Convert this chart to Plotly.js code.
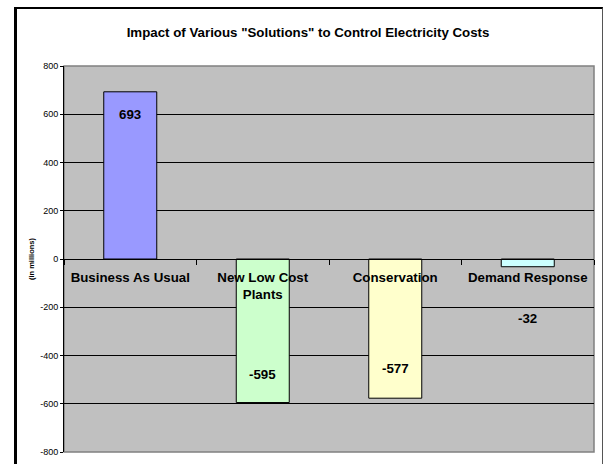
<!DOCTYPE html>
<html>
<head>
<meta charset="utf-8">
<script src="https://cdn.plot.ly/plotly-3.0.1.min.js"></script>
<style>
  html, body { margin: 0; padding: 0; background: #fff; }
  #chart { width: 604px; height: 464px; position: absolute; left: 0; top: 0; }
  #frame { position: absolute; left: 14px; top: 7px; width: 585px; height: 470px;
           border-left: 3px solid #000; border-top: 2px solid #000; border-right: 1px solid #555;
           pointer-events: none; }
</style>
</head>
<body>
<div id="chart"></div>
<div id="frame"></div>
<script>
// ---- data ----
const categories = ["Business As Usual", "New Low Cost<br>Plants", "Conservation", "Demand Response"];
const values = [693, -595, -577, -32];
const tickValues = [-800, -600, -400, -200, 0, 200, 400, 600, 800];
const tickLabels = ["-800", "-600", "-400", "-200", "0", "200", "400", "600", "800"];

// ---- style ----
const barColors = ["#9999ff", "#ccffcc", "#ffffcc", "#ccffff"];
const labelShift = [-23, 28, 30, -52];
const FONT = "Liberation Sans, Arial, sans-serif";
const BIG = 13.3;

const trace = {
  type: "bar",
  x: categories,
  y: values,
  width: 0.4,
  marker: { color: barColors, line: { color: "#000", width: 1 } },
  hoverinfo: "none"
};

const annotations = values.map((v, i) => ({
  x: categories[i], y: v, xref: "x", yref: "y",
  text: String(v), showarrow: false, yshift: labelShift[i],
  font: { family: FONT, size: BIG, color: "#000", weight: "bold" }
}));

const layout = {
  width: 604, height: 464,
  margin: { l: 63.5, r: 10, t: 66, b: 12, pad: 0 },
  paper_bgcolor: "#fff",
  plot_bgcolor: "#c0c0c0",
  showlegend: false,
  title: {
    text: 'Impact of Various "Solutions" to Control Electricity Costs',
    font: { family: FONT, size: BIG, color: "#000", weight: "bold" },
    x: 0.51, xanchor: "center", y: 1 - 32 / 464, yanchor: "middle"
  },
  xaxis: {
    type: "category",
    anchor: "free", position: 0.5,
    showline: true, linecolor: "#000", linewidth: 1,
    ticks: "outside", ticklen: 5, tickcolor: "#000", tickson: "boundaries",
    ticklabelstandoff: 6,
    showgrid: false, zeroline: false,
    tickfont: { family: FONT, size: BIG, color: "#000", weight: "bold" },
    fixedrange: true
  },
  yaxis: {
    range: [-800, 800],
    tickvals: tickValues, ticktext: tickLabels,
    showline: true, linecolor: "#000", linewidth: 1,
    ticks: "outside", ticklen: 3, tickcolor: "#000",
    showgrid: true, gridcolor: "#000", gridwidth: 1,
    zeroline: true, zerolinecolor: "#000", zerolinewidth: 1,
    tickfont: { family: FONT, size: 9, color: "#000" },
    title: { text: "(in millions)", standoff: 4,
             font: { family: FONT, size: 7.5, color: "#000", weight: "bold" } },
    fixedrange: true
  },
  shapes: [{
    type: "rect", xref: "paper", yref: "paper", x0: 0, x1: 1, y0: 0, y1: 1,
    line: { color: "#808080", width: 1.5 }, layer: "below"
  }],
  annotations: annotations
};

Plotly.newPlot("chart", [trace], layout, { displayModeBar: false, staticPlot: true });
</script>
</body>
</html>
